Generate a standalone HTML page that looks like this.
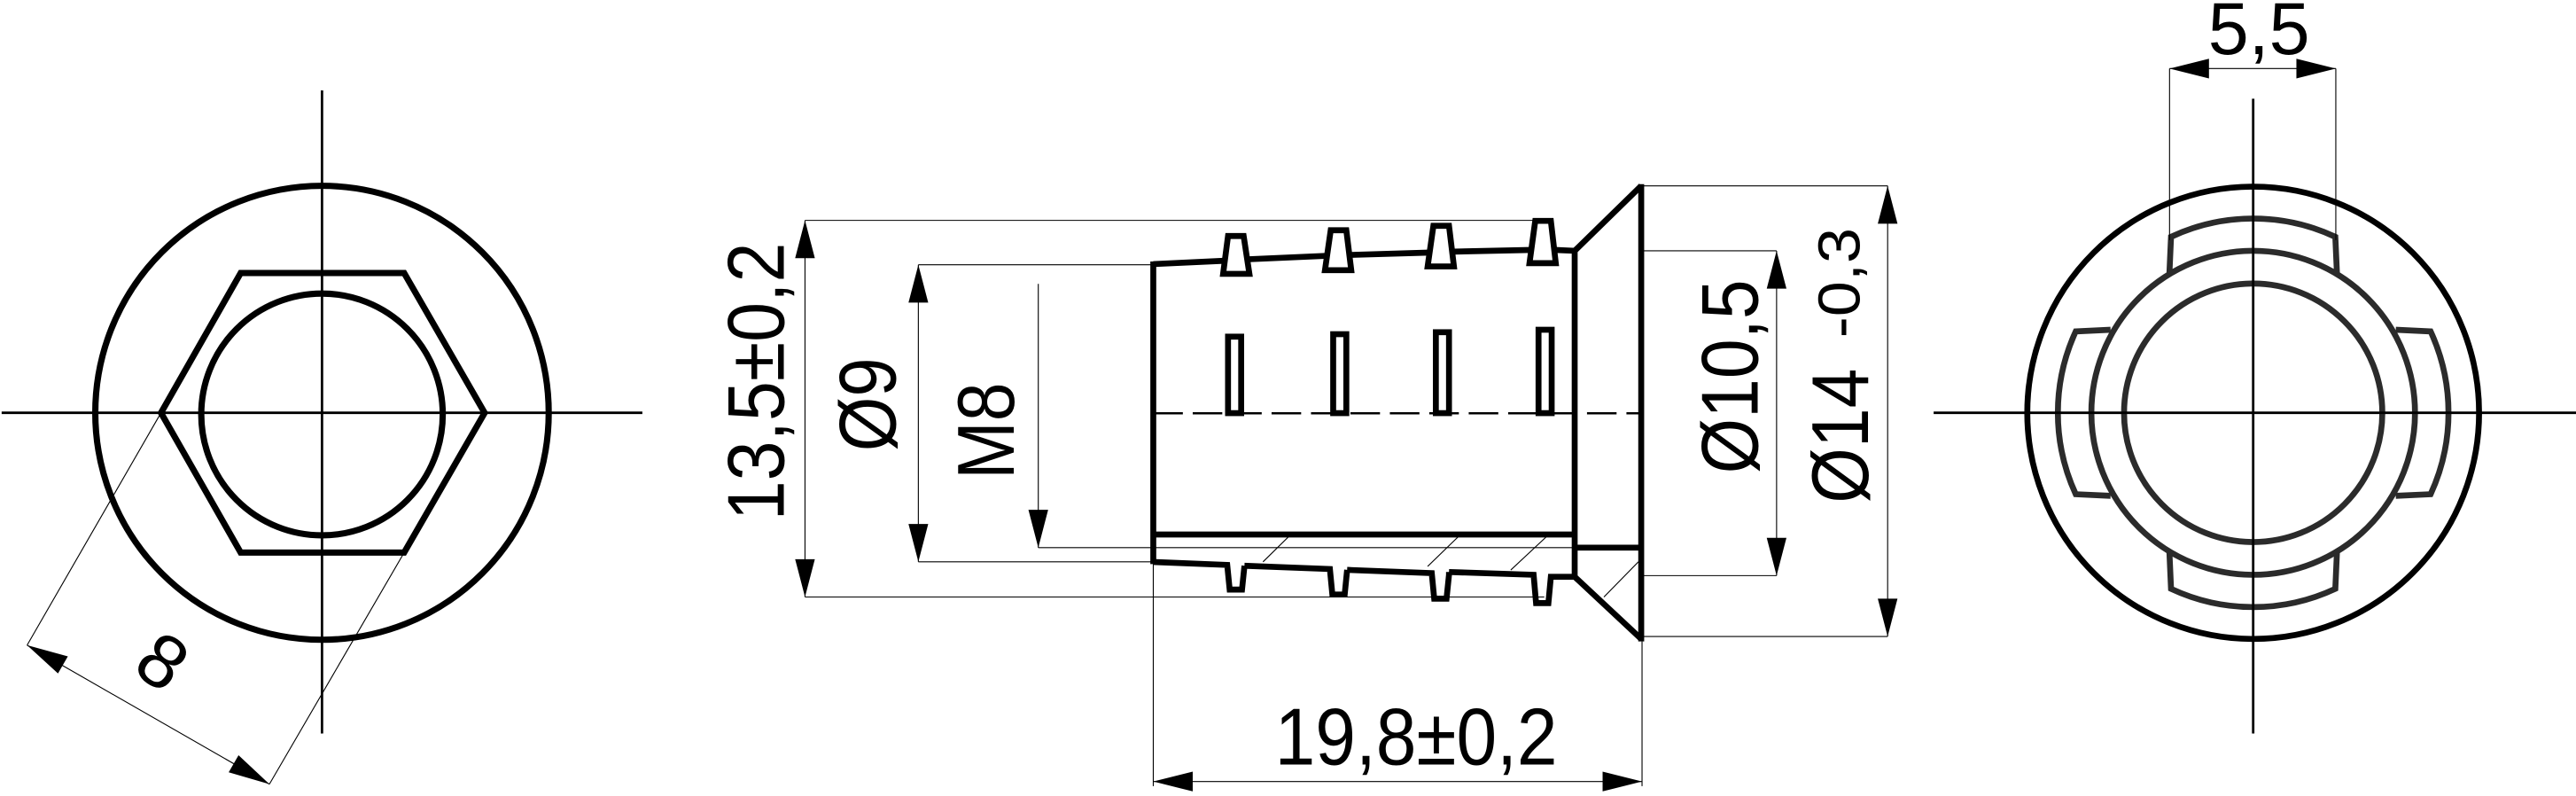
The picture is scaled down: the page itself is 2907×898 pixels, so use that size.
<!DOCTYPE html>
<html><head><meta charset="utf-8"><style>
html,body{margin:0;padding:0;background:#fff;}
svg{display:block;}
text{font-family:"Liberation Sans","DejaVu Sans",sans-serif;fill:#000;}
</style></head><body>
<svg width="2907" height="898" viewBox="0 0 1568 484" preserveAspectRatio="none" xmlns="http://www.w3.org/2000/svg">
<rect width="1568" height="484" fill="#fff"/>

<!-- LEFT VIEW -->
<g fill="none" stroke="#000">
  <line x1="196" y1="55" x2="196" y2="446" stroke-width="1.5"/>
  <line x1="1" y1="251" x2="391" y2="251" stroke-width="1.5"/>
  <circle cx="196" cy="251" r="138" stroke-width="3.8"/>
  <polygon points="98,251 146.5,166 246,166 295,251 246,336 146.5,336" stroke-width="3.8" stroke-linejoin="miter"/>
  <circle cx="196" cy="252" r="73.5" stroke-width="3.8"/>
  <line x1="98" y1="251" x2="16.5" y2="392.3" stroke-width="0.6"/>
  <line x1="246" y1="336" x2="164" y2="476.8" stroke-width="0.6"/>
  <line x1="16.5" y1="392.3" x2="164" y2="476.8" stroke-width="0.6"/>
</g>
<polygon points="16.5,392.3 35.3,409.5 41.3,399.1" fill="#000"/>
<polygon points="164,476.8 139.2,469.6 145.2,459.2" fill="#000"/>
<text x="0" y="0" font-size="46" text-anchor="middle" transform="translate(99,402) rotate(35) translate(0,16)">8</text>

<!-- MIDDLE VIEW -->
<g fill="none" stroke="#000" stroke-width="3.6" stroke-linejoin="miter">
  <polyline points="702,160.6 744.5,158.6"/>
  <polyline points="760.5,157.6 806.5,155.6"/>
  <polyline points="822.5,155 869,153.6"/>
  <polyline points="885,153 931,152"/>
  <polyline points="947,152 958.5,152.5"/>
  <polygon points="744.5,166.5 747.5,143.5 757,143.5 760.5,166.5"/>
  <polygon points="806.5,164.3 810,140 819.5,140 822.5,164.3"/>
  <polygon points="869,162 872.5,137.3 882,137.3 885,162"/>
  <polygon points="931,160 934.5,134.3 944,134.3 947,160"/>
  <rect x="747.5" y="204.7" width="8" height="46.5"/>
  <rect x="811.5" y="203.2" width="8" height="48"/>
  <rect x="874" y="202" width="8" height="49.2"/>
  <rect x="936.5" y="200.5" width="8" height="50.7"/>
  <line x1="702" y1="159" x2="702" y2="343"/>
  <line x1="702" y1="325" x2="958" y2="325"/>
  <polyline points="702,341.7 747,343.5 748.5,358.5 756,358.5 757.5,344"/>
  <polyline points="757.5,344 809.5,346 811,361.5 818.5,361.5 820,346.5"/>
  <polyline points="820,346.5 871.5,348.5 873,364 880.5,364 882,349.5 882,347.8"/>
  <polyline points="882,347.8 933.5,349.5 935,366.7 942.5,366.7 944,350.7 958.5,350.7"/>
  <line x1="958.5" y1="151" x2="958.5" y2="352"/>
  <line x1="999" y1="112" x2="999" y2="390"/>
  <line x1="958.5" y1="152.5" x2="999" y2="113"/>
  <line x1="958.5" y1="350.7" x2="999" y2="388.5"/>
  <line x1="958.5" y1="333" x2="999" y2="333"/>
</g>
<line x1="702" y1="251.3" x2="999" y2="251.3" stroke="#000" stroke-width="1.4" stroke-dasharray="18,6"/>
<g stroke="#000" stroke-width="0.6">
  <line x1="785.3" y1="325.4" x2="768.8" y2="341.6"/>
  <line x1="888.6" y1="325.4" x2="869" y2="344.4"/>
  <line x1="942.3" y1="325.4" x2="919.6" y2="346.6"/>
  <line x1="997.3" y1="341.6" x2="976.3" y2="363"/>
</g>

<g stroke="#000" stroke-width="0.6" fill="none">
  <line x1="490" y1="134" x2="940" y2="134"/>
  <line x1="490" y1="363" x2="940" y2="363"/>
  <line x1="490" y1="134" x2="490" y2="363"/>
  <line x1="559" y1="161" x2="702" y2="161"/>
  <line x1="559" y1="341.6" x2="702" y2="341.6"/>
  <line x1="559" y1="161" x2="559" y2="341.6"/>
  <line x1="632" y1="172.6" x2="632" y2="333"/>
  <line x1="632" y1="333" x2="958" y2="333"/>
  <line x1="999" y1="152.5" x2="1081.4" y2="152.5"/>
  <line x1="999" y1="350" x2="1081.4" y2="350"/>
  <line x1="1081.4" y1="152.5" x2="1081.4" y2="350"/>
  <line x1="999" y1="113" x2="1149" y2="113"/>
  <line x1="999" y1="387" x2="1149" y2="387"/>
  <line x1="1149" y1="113" x2="1149" y2="387"/>
  <line x1="702" y1="343" x2="702" y2="478"/>
  <line x1="999.5" y1="390" x2="999.5" y2="478"/>
  <line x1="702" y1="475.2" x2="999.5" y2="475.2"/>
</g>
<g fill="#000">
  <polygon points="490,134 484,157 496,157"/>
  <polygon points="490,363 484,340 496,340"/>
  <polygon points="559,161 553,184 565,184"/>
  <polygon points="559,341.6 553,318.6 565,318.6"/>
  <polygon points="632,333 626,310 638,310"/>
  <polygon points="1081.4,152.5 1075.4,175.5 1087.4,175.5"/>
  <polygon points="1081.4,350 1075.4,327 1087.4,327"/>
  <polygon points="1149,113 1143,136 1155,136"/>
  <polygon points="1149,387 1143,364 1155,364"/>
  <polygon points="702,475.2 726,469.2 726,481.2"/>
  <polygon points="999.5,475.2 975.5,469.2 975.5,481.2"/>
</g>
<text font-size="49" text-anchor="middle" transform="translate(477,232) rotate(-90)" textLength="169" lengthAdjust="spacingAndGlyphs">13,5±0,2</text>
<text font-size="49" text-anchor="middle" transform="translate(545,246) rotate(-90)" textLength="57" lengthAdjust="spacingAndGlyphs">Ø9</text>
<text font-size="49" text-anchor="middle" transform="translate(617,262) rotate(-90)" textLength="59" lengthAdjust="spacingAndGlyphs">M8</text>
<text font-size="49" text-anchor="middle" transform="translate(1070,229) rotate(-90)" textLength="118" lengthAdjust="spacingAndGlyphs">Ø10,5</text>
<text font-size="49" text-anchor="middle" transform="translate(1137,265) rotate(-90)" textLength="82" lengthAdjust="spacingAndGlyphs">Ø14</text>
<text font-size="36" text-anchor="middle" fill="#222" transform="translate(1132,172) rotate(-90)" textLength="67" lengthAdjust="spacingAndGlyphs">-0,3</text>
<text x="862" y="465" font-size="49" text-anchor="middle" textLength="172" lengthAdjust="spacingAndGlyphs">19,8±0,2</text>

<!-- RIGHT VIEW -->
<g fill="none" stroke="#2b2b2b" stroke-width="3.6">
  <circle cx="1371.5" cy="251" r="137.5" stroke="#000"/>
  <circle cx="1371.5" cy="251" r="98.5"/>
  <circle cx="1371.5" cy="251" r="78.6"/>
  <path d="M1320.5,166.5 L1321.5,144 A118,118 0 0 1 1421.5,144 L1422.5,166.5"/>
  <path d="M1320.5,335.5 L1321.5,358 A118,118 0 0 0 1421.5,358 L1422.5,335.5"/>
  <path d="M1284.7,200.5 L1263.5,201.5 A118,118 0 0 0 1263.5,300.5 L1284.7,301.5"/>
  <path d="M1458.3,200.5 L1479.5,201.5 A118,118 0 0 1 1479.5,300.5 L1458.3,301.5"/>
</g>
<g stroke="#000" stroke-width="1.5">
  <line x1="1371.5" y1="60" x2="1371.5" y2="446"/>
  <line x1="1177" y1="251" x2="1568" y2="251"/>
</g>
<g stroke="#000" stroke-width="0.6">
  <line x1="1320.6" y1="41.7" x2="1320.6" y2="146"/>
  <line x1="1421.8" y1="41.7" x2="1421.8" y2="146"/>
  <line x1="1320.6" y1="41.7" x2="1421.8" y2="41.7"/>
</g>
<g fill="#000">
  <polygon points="1320.6,41.7 1344.6,35.7 1344.6,47.7"/>
  <polygon points="1421.8,41.7 1397.8,35.7 1397.8,47.7"/>
</g>
<text x="1375" y="33" font-size="45" text-anchor="middle" fill="#222" textLength="62" lengthAdjust="spacingAndGlyphs">5,5</text>
</svg>
</body></html>
